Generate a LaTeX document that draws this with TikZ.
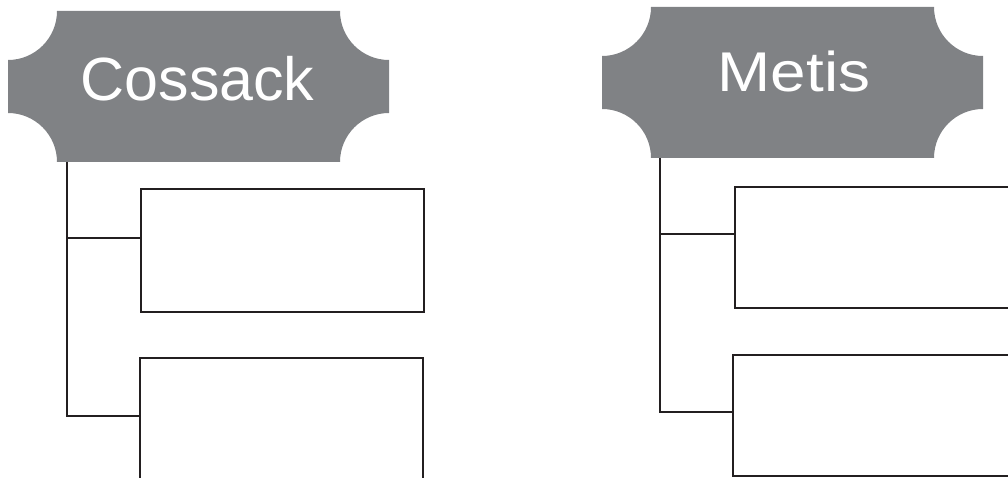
\documentclass[tikz,border=0pt]{standalone}
\usepackage{fontspec}
\setmainfont{Liberation Sans}
\definecolor{hdrgray}{HTML}{808285}
\definecolor{inkline}{HTML}{231F20}
\newcommand\notchfill[1]{%
  \fill[hdrgray] ([xshift=49pt]#1.north west) -- ([xshift=-49pt]#1.north east)
    arc[start angle=180,end angle=270,radius=49pt]
    -- ([yshift=49pt]#1.south east)
    arc[start angle=90,end angle=180,radius=49pt]
    -- ([xshift=49pt]#1.south west)
    arc[start angle=0,end angle=90,radius=49pt]
    -- ([yshift=-49pt]#1.north west)
    arc[start angle=270,end angle=360,radius=49pt] -- cycle;}
\tikzset{
  hdr/.style={inner sep=0pt, outer sep=0pt, minimum width=381pt, minimum height=151pt},
  hdrtext/.style={text=white, inner sep=0pt, anchor=base},
  itembox/.style={draw=inkline, line width=1.8pt, inner sep=0pt, outer sep=0pt, fill=white},
  conn/.style={draw=inkline, line width=1.8pt}
}
\begin{document}
\begin{tikzpicture}[x=1pt,y=1pt]
\useasboundingbox (0,0) rectangle (1008,477);
\clip (0,0) rectangle (1008,477);
% headers
\node[hdr] (coss) at (198.5,390.5) {};
\node[hdr] (metis) at (792.5,394.5) {};
\notchfill{coss}
\notchfill{metis}
\node[hdrtext, font=\fontsize{61}{61}\selectfont] (cossT) at (197.5,376) {Cossack};
\node[hdrtext, font=\fontsize{56}{56}\selectfont, xscale=1.14] (metisT) at (794,385) {Metis};
% boxes
\node[itembox, minimum width=283pt, minimum height=123pt] (cb1) at (282.5,226.5) {};
\node[itembox, minimum width=283pt, minimum height=160pt] (cb2) at (281.5,39) {};
\node[itembox, minimum width=330pt, minimum height=121pt] (mb1) at (900,229.5) {};
\node[itembox, minimum width=330pt, minimum height=121pt] (mb2) at (898,61.5) {};
% connectors
\coordinate (cj1) at (66.7,239);
\coordinate (cj2) at (66.7,61);
\coordinate (mj1) at (660,243);
\coordinate (mj2) at (660,65);
\draw[conn] (coss.south -| cj2) -- (cj2) -- (cj2 -| cb2.west);
\draw[conn] (cj1) -- (cj1 -| cb1.west);
\draw[conn] (metis.south -| mj2) -- (mj2) -- (mj2 -| mb2.west);
\draw[conn] (mj1) -- (mj1 -| mb1.west);
\end{tikzpicture}
\end{document}
